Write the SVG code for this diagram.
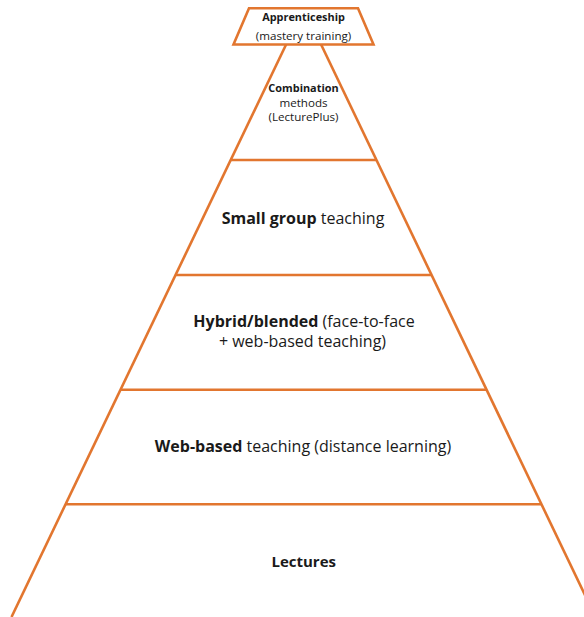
<svg xmlns="http://www.w3.org/2000/svg" width="584" height="617" viewBox="0 0 584 617">
  <style>
    .edge { stroke: #E2762F; stroke-width: 2.6; fill: none; stroke-linecap: butt; }
    .cap { stroke: #E2762F; stroke-width: 2.6; fill: #ffffff; stroke-linejoin: miter; }
    text { font-family: "Open Sans", "Lato", "Liberation Sans", sans-serif; fill: #1a1a1a; text-anchor: middle; }
    .lg { font-size: 16px; }
    .sm { font-size: 11.6px; }
    .smb { font-size: 10.9px; font-weight: bold; }
    .b { font-weight: bold; }
  </style>
  <rect width="584" height="617" fill="#ffffff"/>

  <!-- pyramid outline: two sides and the tier dividers -->
  <g id="pyramid-lines">
    <line class="edge" x1="303.6" y1="8" x2="11.5" y2="617"/>
    <line class="edge" x1="303.6" y1="8" x2="595.5" y2="617"/>
    <line class="edge" x1="230.7" y1="160" x2="376.5" y2="160"/>
    <line class="edge" x1="175.6" y1="275" x2="431.6" y2="275"/>
    <line class="edge" x1="120.6" y1="389.7" x2="486.6" y2="389.7"/>
    <line class="edge" x1="65.6" y1="504.3" x2="541.6" y2="504.3"/>
  </g>

  <!-- top tier: separate trapezoid resting on the apex -->
  <g id="apprenticeship">
    <polygon class="cap" points="249,8.3 358,8.3 373.5,44.5 233.5,44.5"/>
    <text class="smb" x="303.5" y="20.5">Apprenticeship</text>
    <text class="sm" x="303.5" y="40">(mastery training)</text>
  </g>

  <g id="combination">
    <text class="smb" x="303.5" y="92.3">Combination</text>
    <text class="sm" x="303.5" y="106.5">methods</text>
    <text class="sm" x="303.5" y="120.5">(LecturePlus)</text>
  </g>

  <g id="small-group">
    <text class="lg" x="303" y="224"><tspan class="b">Small group</tspan> teaching</text>
  </g>

  <g id="hybrid">
    <text class="lg" x="304" y="327.3"><tspan class="b">Hybrid/blended</tspan> (face-to-face</text>
    <text class="lg" x="302.5" y="346.7">+ web-based teaching)</text>
  </g>

  <g id="web-based">
    <text class="lg" x="303" y="451.7"><tspan class="b">Web-based</tspan> teaching (distance learning)</text>
  </g>

  <g id="lectures">
    <text class="b" x="303.7" y="566.7" style="font-size:15px">Lectures</text>
  </g>
</svg>
